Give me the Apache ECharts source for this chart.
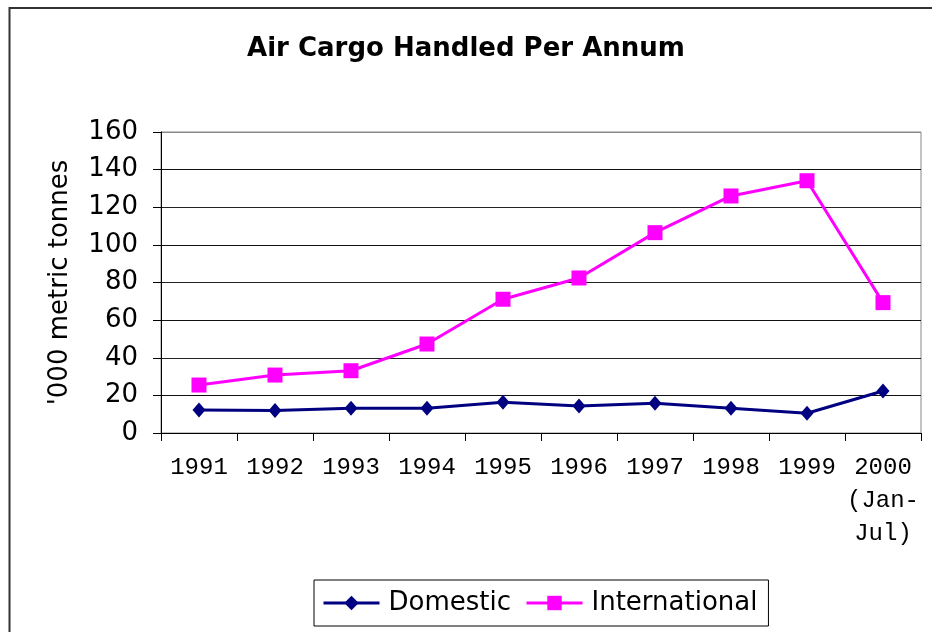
<!DOCTYPE html>
<html>
<head>
<meta charset="utf-8">
<script src="https://cdn.jsdelivr.net/npm/echarts@6/dist/echarts.min.js"></script>
<style>html,body{margin:0;padding:0;background:#fff;}#c{width:932px;height:632px;}</style>
</head>
<body>
<div id="c"></div>
<script>
var categories = ['1991','1992','1993','1994','1995','1996','1997','1998','1999','2000\n(Jan-\nJul)'];
var domestic = [12.2, 11.9, 13.1, 13.1, 16.3, 14.4, 15.8, 13.1, 10.5, 22.3];
var international = [25.5, 30.8, 33.1, 47.3, 71.1, 82.4, 106.5, 126.0, 134.1, 69.3];
var yTicks = [0, 20, 40, 60, 80, 100, 120, 140, 160];

var chart = echarts.init(document.getElementById('c'), null, {renderer: 'canvas'});
chart.setOption({
  animation: false,
  backgroundColor: '#fff',
  graphic: [{
    type: 'rect', silent: true, z: 100,
    shape: {x: 9.5, y: 8, width: 1000, height: 1000},
    style: {fill: 'none', stroke: '#333', lineWidth: 2}
  }],
  title: {
    text: 'Air Cargo Handled Per Annum',
    left: 'center', top: 31,
    textStyle: {fontFamily: 'DejaVu Sans', fontWeight: 'bold', fontSize: 26, color: '#000'}
  },
  grid: {left: 161, right: 11, top: 132, bottom: 199, show: true, borderColor: '#888', borderWidth: 1},
  legend: {
    data: ['Domestic', 'International'],
    left: 314, top: 580,
    padding: [10, 11, 10, 8],
    borderColor: '#000', borderWidth: 1,
    itemWidth: 56, itemHeight: 18, itemGap: 14,
    lineStyle: {width: 3},
    textStyle: {fontFamily: 'DejaVu Sans', fontSize: 26, color: '#000', padding: [0, 0, 0, 4]}
  },
  xAxis: {
    type: 'category',
    data: categories,
    boundaryGap: true,
    axisLine: {lineStyle: {color: '#000', width: 1}},
    axisTick: {show: true, length: 8, lineStyle: {color: '#000'}},
    axisLabel: {
      fontFamily: 'Liberation Mono', fontSize: 24, color: '#000',
      margin: 18, lineHeight: 33, interval: 0, align: 'center'
    },
    splitLine: {show: false}
  },
  yAxis: {
    type: 'value',
    min: yTicks[0], max: yTicks[yTicks.length - 1], interval: 20,
    name: "'000 metric tonnes",
    nameLocation: 'middle', nameGap: 88, nameRotate: 90,
    nameTextStyle: {fontFamily: 'DejaVu Sans', fontSize: 26, color: '#000'},
    axisLine: {show: true, lineStyle: {color: '#000', width: 1}},
    axisTick: {show: true, length: 8, lineStyle: {color: '#000'}},
    axisLabel: {fontFamily: 'DejaVu Sans', fontSize: 26, color: '#000', margin: 23},
    splitLine: {show: true, lineStyle: {color: ['#000','#111','#222','#111','#222','#111','#222','#111','#888'], width: 1}}
  },
  series: [{
    name: 'Domestic',
    type: 'line',
    data: domestic,
    symbol: 'diamond', symbolSize: [13, 15],
    showAllSymbol: true,
    lineStyle: {color: '#000080', width: 3},
    itemStyle: {color: '#000080'},
    z: 3
  }, {
    name: 'International',
    type: 'line',
    data: international,
    symbol: 'rect', symbolSize: 15,
    showAllSymbol: true,
    lineStyle: {color: '#ff00ff', width: 3},
    itemStyle: {color: '#ff00ff'},
    z: 2
  }]
});
</script>
</body>
</html>
